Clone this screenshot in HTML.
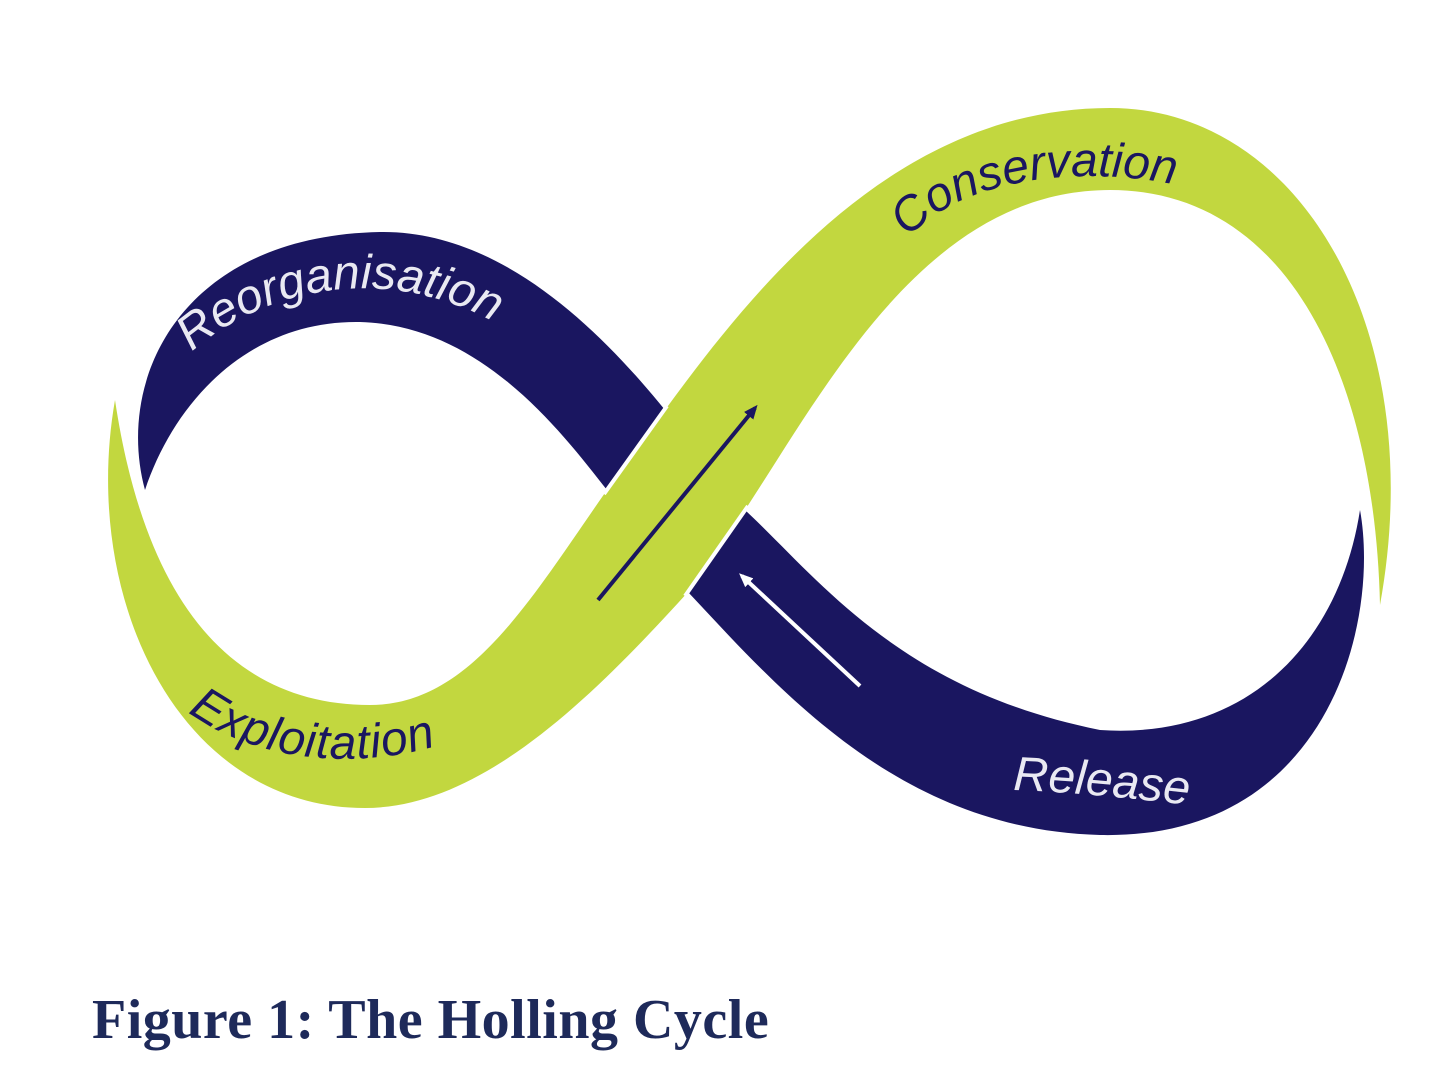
<!DOCTYPE html>
<html><head><meta charset="utf-8"><style>
html,body{margin:0;padding:0;background:#fff;width:1440px;height:1075px;overflow:hidden}
svg{display:block}
</style></head><body>
<svg width="1440" height="1075" viewBox="0 0 1440 1075" xmlns="http://www.w3.org/2000/svg">
<defs>
<path id="pReorg" d="M192,352 C260,290 400,250 530,345"/>
<path id="pCons" d="M908,238 C960,180 1080,160 1200,190"/>
<path id="pExpl" d="M188,712 C260,765 370,772 460,738"/>
<path id="pRel" d="M1013,790 C1070,792 1130,798 1190,805"/>
<marker id="ah" markerUnits="userSpaceOnUse" markerWidth="14" markerHeight="12" refX="10" refY="6" orient="auto"><path d="M0,0 L14,6 L0,12 Z" fill="#1a1660"/></marker>
<marker id="ahw" markerUnits="userSpaceOnUse" markerWidth="14" markerHeight="12" refX="10" refY="6" orient="auto"><path d="M0,0 L14,6 L0,12 Z" fill="#fff"/></marker>
</defs>
<path fill="#1a1660" d="M145,490 C115,380 180,236 380,232 C500,230 600,330 665,410 L607,490 C560,430 480,325 360,322 C250,320 175,400 145,490 Z"/>
<path fill="#1a1660" d="M745,510 C820,580 900,690 1100,730 C1250,740 1340,640 1360,510 C1380,620 1330,840 1100,835 C900,830 780,690 688,592 Z"/>
<path fill="#c2d73f" d="M115,400 C80,600 180,808 365,808 C480,808 590,700 688,592 L745,510 C830,380 930,190 1110,190 C1290,190 1375,380 1380,605 C1430,330 1300,108 1110,108 C900,108 760,280 665,410 L607,490 C530,600 470,705 370,705 C230,705 145,600 115,400 Z"/>
<line x1="667" y1="406" x2="604" y2="494" stroke="#fff" stroke-width="4"/>
<line x1="748" y1="506" x2="685" y2="596" stroke="#fff" stroke-width="4"/>
<line x1="598" y1="600" x2="755" y2="408" stroke="#1a1660" stroke-width="4" marker-end="url(#ah)"/>
<line x1="860" y1="686" x2="742" y2="576" stroke="#fff" stroke-width="4" marker-end="url(#ahw)"/>
<g font-family="'Liberation Sans',sans-serif" font-style="italic" font-size="48">
<text fill="#e9e9f2"><textPath href="#pReorg">Reorganisation</textPath></text>
<text fill="#1a1660"><textPath href="#pCons">Conservation</textPath></text>
<text fill="#1a1660" letter-spacing="1"><textPath href="#pExpl">Exploitation</textPath></text>
<text fill="#e9e9f2"><textPath href="#pRel">Release</textPath></text>
</g>
<text x="92" y="1038" font-family="'Liberation Serif',serif" font-weight="bold" font-size="56" letter-spacing="0.5" fill="#1e2a5a">Figure 1: The Holling Cycle</text>
</svg>
</body></html>
